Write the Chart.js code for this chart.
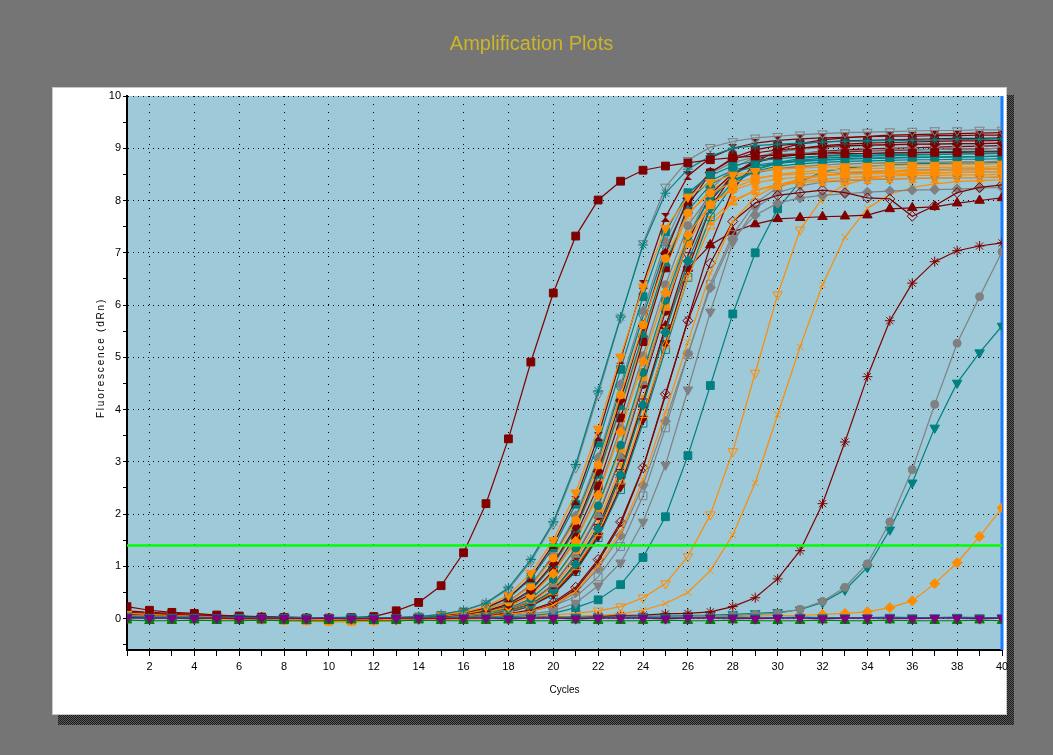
<!DOCTYPE html>
<html>
<head>
<meta charset="utf-8">
<title>Amplification Plots</title>
<script src="https://cdn.jsdelivr.net/npm/chart.js@4.4.1/dist/chart.umd.min.js"></script>
<style>
    html, body { margin: 0; padding: 0; background: #757575; overflow: hidden; }
    canvas { display: block; }
</style>
</head>
<body>
<canvas id="ampChart" width="1053" height="755"></canvas>
<script>
// x axis: PCR cycles
let cycles = [1,2,3,4,5,6,7,8,9,10,11,12,13,14,15,16,17,18,19,20,21,22,23,24,25,26,27,28,29,30,31,32,33,34,35,36,37,38,39,40];
let yTicks = [-0.5,0,0.5,1,1.5,2,2.5,3,3.5,4,4.5,5,5.5,6,6.5,7,7.5,8,8.5,9,9.5,10];
let threshold = 1.4;

// Fluorescence (dRn) per well, one value per cycle
let tealStar = [0.03,0.02,0.02,0.01,0.01,0.00,0.00,0.00,0.01,0.00,0.00,0.01,0.02,0.04,0.08,0.16,0.30,0.59,1.13,1.85,2.95,4.36,5.77,7.15,8.14,8.60,8.85,9.00,9.05,9.08,9.10,9.12,9.13,9.14,9.15,9.15,9.16,9.17,9.17,9.18];
let greyOpenDown = [0.06,0.05,0.04,0.03,0.02,0.02,0.01,0.01,0.00,0.00,0.01,0.01,0.02,0.04,0.08,0.15,0.29,0.56,1.09,1.81,2.89,4.29,5.75,7.18,8.26,8.77,9.02,9.13,9.20,9.23,9.26,9.28,9.30,9.31,9.32,9.33,9.34,9.34,9.35,9.35];
let orangeDown = [0.10,0.08,0.06,0.05,0.03,0.02,0.01,0.00,-0.01,-0.02,-0.02,-0.01,0.02,0.04,0.07,0.12,0.23,0.45,0.87,1.50,2.41,3.63,5.01,6.35,7.47,8.07,8.35,8.49,8.56,8.60,8.62,8.64,8.65,8.66,8.67,8.68,8.68,8.69,8.69,8.70];
let tealSquare = [0.04,0.03,0.03,0.02,0.02,0.01,0.01,0.00,0.00,0.00,0.00,0.00,0.01,0.03,0.06,0.11,0.20,0.39,0.76,1.36,2.19,3.36,4.77,6.16,7.40,8.15,8.48,8.66,8.76,8.80,8.83,8.85,8.86,8.87,8.88,8.88,8.89,8.89,8.90,8.90];
let redHourglass = [0.12,0.10,0.08,0.06,0.05,0.04,0.03,0.02,0.01,0.01,0.00,0.00,0.01,0.03,0.06,0.11,0.21,0.40,0.79,1.42,2.27,3.49,4.95,6.40,7.68,8.47,8.82,9.00,9.10,9.15,9.18,9.20,9.21,9.22,9.23,9.23,9.24,9.24,9.25,9.25];
let orangeCircle = [0.05,0.04,0.03,0.02,0.01,0.00,-0.01,-0.02,-0.03,-0.04,-0.04,-0.03,0.00,0.02,0.05,0.09,0.17,0.32,0.62,1.16,1.88,2.94,4.28,5.62,6.89,7.76,8.14,8.34,8.43,8.48,8.51,8.53,8.55,8.56,8.57,8.58,8.58,8.59,8.59,8.60];
let greyDiamond = [0.02,0.02,0.01,0.01,0.01,0.00,0.00,0.00,0.00,0.00,0.00,0.00,0.01,0.02,0.05,0.09,0.18,0.33,0.65,1.21,1.97,3.08,4.48,5.88,7.21,8.12,8.52,8.73,8.83,8.88,8.91,8.93,8.95,8.96,8.97,8.98,8.98,8.99,8.99,9.00];
let redDiamond = [0.08,0.07,0.06,0.05,0.04,0.03,0.02,0.02,0.01,0.01,0.00,0.00,0.01,0.02,0.04,0.08,0.15,0.28,0.55,1.06,1.76,2.82,4.18,5.60,6.99,8.04,8.54,8.79,8.91,8.97,9.00,9.03,9.05,9.06,9.07,9.08,9.08,9.09,9.09,9.10];
let tealTriangle = [0.03,0.03,0.02,0.02,0.01,0.01,0.01,0.00,0.00,0.00,0.00,0.00,0.01,0.02,0.04,0.08,0.15,0.27,0.53,1.03,1.71,2.74,4.06,5.44,6.80,7.81,8.30,8.54,8.65,8.71,8.75,8.77,8.79,8.80,8.81,8.82,8.83,8.83,8.84,8.85];
let orangeDiamond = [0.07,0.06,0.05,0.03,0.02,0.01,0.00,-0.01,-0.02,-0.03,-0.03,-0.02,0.00,0.02,0.04,0.07,0.12,0.23,0.44,0.86,1.48,2.36,3.57,4.92,6.24,7.34,7.93,8.20,8.34,8.41,8.45,8.48,8.50,8.51,8.52,8.53,8.53,8.54,8.54,8.55];
let redSquare = [0.05,0.04,0.04,0.03,0.02,0.02,0.01,0.01,0.00,0.00,0.00,0.00,0.01,0.02,0.04,0.07,0.13,0.25,0.47,0.92,1.59,2.54,3.84,5.30,6.71,7.90,8.53,8.82,8.97,9.05,9.09,9.12,9.14,9.15,9.16,9.17,9.18,9.19,9.19,9.20];
let tealCircle = [0.02,0.02,0.02,0.01,0.01,0.01,0.00,0.00,0.00,0.00,0.00,0.00,0.00,0.01,0.03,0.06,0.11,0.20,0.38,0.75,1.35,2.16,3.32,4.71,6.09,7.31,8.06,8.39,8.56,8.66,8.70,8.73,8.75,8.76,8.77,8.78,8.78,8.79,8.79,8.80];
let orangeSquare = [0.04,0.03,0.02,0.01,0.00,-0.01,-0.02,-0.03,-0.04,-0.05,-0.05,-0.04,-0.02,0.01,0.03,0.06,0.10,0.20,0.38,0.74,1.32,2.13,3.26,4.63,5.98,7.18,7.92,8.24,8.41,8.50,8.55,8.58,8.60,8.61,8.62,8.63,8.63,8.64,8.64,8.65];
let greyTriangle = [0.02,0.02,0.01,0.01,0.01,0.01,0.00,0.00,0.00,0.00,0.00,0.00,0.00,0.01,0.02,0.05,0.09,0.18,0.34,0.66,1.22,1.99,3.11,4.53,5.95,7.29,8.21,8.62,8.83,8.93,8.98,9.01,9.03,9.05,9.06,9.07,9.08,9.09,9.09,9.10];
let redCircle = [0.10,0.08,0.07,0.05,0.04,0.03,0.02,0.01,0.01,0.00,0.00,0.00,0.00,0.01,0.02,0.05,0.09,0.18,0.33,0.65,1.21,1.97,3.08,4.48,5.88,7.21,8.12,8.52,8.73,8.83,8.88,8.91,8.93,8.95,8.96,8.97,8.98,8.99,8.99,9.00];
let tealDiamond = [0.03,0.02,0.02,0.02,0.01,0.01,0.01,0.00,0.00,0.00,0.00,0.00,0.00,0.01,0.02,0.04,0.08,0.15,0.27,0.54,1.04,1.72,2.75,4.09,5.48,6.84,7.86,8.35,8.59,8.71,8.77,8.81,8.83,8.85,8.86,8.87,8.88,8.89,8.89,8.90];
let orangeOpenUp = [0.06,0.05,0.04,0.02,0.01,0.00,-0.01,-0.02,-0.03,-0.03,-0.04,-0.03,-0.01,0.01,0.02,0.04,0.07,0.14,0.26,0.51,0.99,1.64,2.63,3.90,5.23,6.53,7.51,7.97,8.20,8.31,8.37,8.41,8.44,8.46,8.47,8.48,8.48,8.49,8.49,8.50];
let redDown = [0.04,0.04,0.03,0.03,0.02,0.02,0.01,0.01,0.00,0.00,0.00,0.00,0.00,0.01,0.02,0.04,0.07,0.13,0.25,0.47,0.92,1.58,2.53,3.82,5.27,6.68,7.86,8.49,8.78,8.92,9.00,9.05,9.08,9.10,9.11,9.12,9.13,9.14,9.14,9.15];
let tealOpenSquare = [0.02,0.02,0.01,0.01,0.01,0.00,0.00,0.00,0.00,0.00,0.00,0.00,0.00,0.01,0.02,0.04,0.07,0.13,0.24,0.46,0.90,1.55,2.47,3.74,5.15,6.53,7.69,8.30,8.59,8.73,8.80,8.85,8.88,8.90,8.91,8.92,8.93,8.94,8.94,8.95];
let orangeCross = [0.03,0.02,0.01,0.00,-0.01,-0.02,-0.03,-0.04,-0.05,-0.06,-0.06,-0.05,-0.04,-0.02,0.01,0.02,0.04,0.08,0.14,0.26,0.52,1.01,1.66,2.66,3.95,5.29,6.61,7.60,8.07,8.30,8.41,8.47,8.51,8.53,8.55,8.56,8.57,8.58,8.59,8.60];
let redCross = [0.15,0.12,0.10,0.08,0.06,0.05,0.04,0.03,0.02,0.01,0.01,0.00,0.00,0.00,0.01,0.02,0.04,0.08,0.15,0.28,0.56,1.09,1.80,2.88,4.27,5.72,7.14,8.21,8.72,8.97,9.09,9.16,9.20,9.23,9.25,9.26,9.27,9.28,9.29,9.30];
let greyCircle = [0.03,0.02,0.02,0.01,0.01,0.01,0.00,0.00,0.00,0.00,0.00,0.00,0.01,0.02,0.04,0.07,0.12,0.24,0.45,0.88,1.51,2.41,3.65,5.03,6.39,7.52,8.11,8.39,8.53,8.61,8.65,8.68,8.70,8.71,8.72,8.73,8.73,8.74,8.74,8.75];
let redOpenDown = [0.05,0.04,0.03,0.03,0.02,0.02,0.01,0.01,0.01,0.00,0.00,0.00,0.00,0.01,0.02,0.04,0.08,0.15,0.28,0.54,1.06,1.75,2.80,4.15,5.57,6.95,7.99,8.49,8.73,8.85,8.90,8.94,8.97,8.99,9.00,9.01,9.02,9.03,9.04,9.05];
let orangeOpenSquare = [0.08,0.06,0.05,0.04,0.02,0.01,0.00,-0.01,-0.02,-0.02,-0.03,-0.02,0.01,0.02,0.04,0.08,0.14,0.27,0.53,1.02,1.69,2.71,4.02,5.38,6.72,7.72,8.20,8.44,8.56,8.62,8.66,8.68,8.70,8.71,8.72,8.73,8.73,8.74,8.74,8.75];
let tealOpenDown = [0.02,0.02,0.02,0.01,0.01,0.01,0.01,0.00,0.00,0.00,0.00,0.00,0.01,0.02,0.05,0.09,0.17,0.33,0.64,1.19,1.93,3.03,4.40,5.78,7.09,7.98,8.38,8.58,8.68,8.73,8.76,8.78,8.80,8.81,8.82,8.83,8.83,8.84,8.84,8.85];
let orangeHourglass = [0.05,0.04,0.03,0.02,0.01,0.00,-0.01,-0.02,-0.02,-0.03,-0.03,-0.02,-0.01,0.01,0.02,0.05,0.09,0.17,0.31,0.61,1.14,1.85,2.89,4.20,5.52,6.77,7.62,8.00,8.19,8.29,8.34,8.37,8.39,8.41,8.42,8.43,8.43,8.44,8.44,8.45];
let redOpenDiamond = [0.06,0.05,0.04,0.03,0.03,0.02,0.02,0.01,0.01,0.00,0.00,0.00,0.00,0.00,0.01,0.02,0.05,0.09,0.17,0.31,0.60,1.13,1.85,2.89,4.30,5.70,6.80,7.60,7.95,8.10,8.15,8.20,8.15,8.05,8.03,7.70,7.90,8.15,8.25,8.30];
let greyDiamondLow = [0.02,0.02,0.01,0.01,0.01,0.00,0.00,0.00,0.00,0.00,0.00,0.00,0.00,0.00,0.01,0.02,0.04,0.07,0.14,0.25,0.50,0.96,1.59,2.55,3.78,5.07,6.33,7.27,7.72,7.95,8.05,8.10,8.13,8.16,8.18,8.20,8.21,8.22,8.24,8.25];
let greyOpenSquare = [0.03,0.02,0.02,0.01,0.01,0.01,0.00,0.00,0.00,0.00,0.00,0.00,0.00,0.01,0.02,0.03,0.05,0.09,0.15,0.25,0.42,0.80,1.38,2.35,3.65,5.05,6.40,7.35,7.95,8.25,8.40,8.48,8.52,8.55,8.57,8.58,8.59,8.60,8.60,8.60];
let greyDown = [0.02,0.02,0.02,0.01,0.01,0.01,0.00,0.00,0.00,0.00,0.00,0.00,0.00,0.00,0.01,0.02,0.04,0.06,0.09,0.15,0.30,0.63,1.07,1.85,2.94,4.38,5.87,7.20,7.85,8.15,8.28,8.35,8.38,8.40,8.41,8.42,8.43,8.44,8.44,8.45];
let redTriangle = [0.04,0.03,0.03,0.02,0.02,0.01,0.01,0.01,0.00,0.00,0.00,0.00,0.00,0.01,0.02,0.03,0.06,0.12,0.25,0.50,0.95,1.65,2.75,4.10,5.60,6.70,7.15,7.40,7.55,7.65,7.67,7.69,7.70,7.72,7.84,7.86,7.88,7.95,8.00,8.05];
let redSquareEarly = [0.23,0.16,0.12,0.10,0.07,0.05,0.03,0.02,0.01,0.01,0.02,0.04,0.15,0.31,0.63,1.26,2.20,3.44,4.91,6.23,7.32,8.01,8.37,8.58,8.66,8.72,8.78,8.82,8.85,8.87,8.88,8.89,8.90,8.90,8.91,8.91,8.92,8.92,8.93,8.93];
let tealSquareLate = [0.03,0.03,0.02,0.02,0.02,0.01,0.01,0.01,0.00,0.00,0.00,0.00,0.00,0.01,0.01,0.01,0.02,0.04,0.06,0.10,0.21,0.36,0.65,1.17,1.95,3.12,4.46,5.83,7.00,7.84,8.36,8.55,8.62,8.66,8.68,8.70,8.71,8.72,8.72,8.73];
let orangeOpenDownLate = [0.06,0.05,0.04,0.03,0.02,0.01,0.00,-0.01,-0.02,-0.03,-0.03,-0.03,-0.02,-0.01,0.00,0.01,0.02,0.03,0.05,0.07,0.10,0.15,0.23,0.40,0.67,1.19,1.99,3.20,4.70,6.20,7.44,8.05,8.30,8.42,8.48,8.51,8.53,8.54,8.55,8.55];
let orangeCrossLate = [0.04,0.03,0.02,0.01,0.00,-0.01,-0.02,-0.03,-0.04,-0.04,-0.05,-0.05,-0.04,-0.03,-0.02,-0.01,0.00,0.01,0.02,0.03,0.04,0.06,0.09,0.16,0.29,0.50,0.92,1.60,2.60,3.90,5.20,6.39,7.30,7.85,8.12,8.25,8.32,8.36,8.38,8.40];
let redStarLate = [0.05,0.04,0.04,0.03,0.03,0.02,0.02,0.02,0.01,0.01,0.01,0.01,0.01,0.01,0.02,0.02,0.02,0.03,0.03,0.03,0.04,0.05,0.06,0.07,0.09,0.10,0.13,0.23,0.40,0.76,1.30,2.20,3.38,4.63,5.70,6.42,6.83,7.04,7.13,7.19];
let greyCircleLate = [0.02,0.02,0.02,0.01,0.01,0.01,0.01,0.01,0.00,0.00,0.00,0.00,0.00,0.00,0.01,0.01,0.01,0.02,0.02,0.02,0.03,0.03,0.03,0.04,0.04,0.05,0.05,0.06,0.08,0.10,0.18,0.33,0.60,1.05,1.85,2.85,4.10,5.27,6.16,7.02];
let tealDownLate = [0.03,0.03,0.02,0.02,0.02,0.02,0.01,0.01,0.01,0.01,0.01,0.01,0.01,0.01,0.01,0.02,0.02,0.02,0.03,0.03,0.03,0.04,0.04,0.05,0.05,0.06,0.07,0.08,0.10,0.12,0.17,0.31,0.55,0.98,1.70,2.60,3.65,4.51,5.09,5.60];
let orangeDiamondLate = [0.05,0.04,0.03,0.03,0.02,0.01,0.01,0.00,0.00,-0.01,-0.01,-0.01,-0.01,0.00,0.00,0.01,0.01,0.02,0.02,0.02,0.03,0.03,0.03,0.04,0.04,0.04,0.05,0.05,0.05,0.06,0.06,0.08,0.10,0.13,0.21,0.34,0.67,1.07,1.57,2.12];
// no template controls
let purpleNtc = [0.02,0.01,0.01,0.01,0.01,0.00,0.01,0.01,0.00,0.01,0.00,0.00,0.01,0.01,0.00,0.01,0.01,0.00,0.01,0.01,0.00,0.01,0.01,0.01,0.00,0.01,0.01,0.01,0.00,0.01,0.01,0.00,0.01,0.01,0.01,0.00,0.01,0.01,0.00,0.01];
let tealNtc = [0.04,0.03,0.03,0.03,0.02,0.03,0.02,0.03,0.02,0.02,0.03,0.02,0.02,0.03,0.02,0.02,0.03,0.02,0.02,0.02,0.03,0.02,0.02,0.03,0.02,0.02,0.02,0.03,0.02,0.02,0.03,0.02,0.02,0.02,0.03,0.02,0.02,0.03,0.02,0.02];
let greenNtc = [-0.03,-0.04,-0.04,-0.03,-0.04,-0.04,-0.03,-0.04,-0.04,-0.04,-0.03,-0.04,-0.04,-0.03,-0.04,-0.04,-0.04,-0.03,-0.04,-0.04,-0.03,-0.04,-0.04,-0.04,-0.03,-0.04,-0.04,-0.03,-0.04,-0.04,-0.04,-0.03,-0.04,-0.04,-0.03,-0.04,-0.04,-0.04,-0.03,-0.04];

let palette = {
    red: "#800000",
    orange: "#ff8c00",
    teal: "#008080",
    grey: "#808080",
    purple: "#800080",
    green: "#008000"
};

let markers = {
    square: { style: "rect", r: 5.5 },
    circle: { style: "circle", r: 4 },
    diamond: { style: "rectRot", r: 5 },
    up: { style: "triangle", r: 5.5, rot: 0 },
    down: { style: "triangle", r: 5.5, rot: 180 },
    cross: { style: "crossRot", r: 4.5 },
    star: { style: "star", r: 5 },
    hourglass: { style: "hourglass", r: 5 }
};

// first in the list is drawn on top
let wells = [
    { data: purpleNtc, color: "purple", marker: "down" },
    { data: tealNtc, color: "teal", marker: "down" },
    { data: greenNtc, color: "green", marker: "up" },
    { data: redSquareEarly, color: "red", marker: "square" },
    { data: tealStar, color: "teal", marker: "star" },
    { data: greyOpenDown, color: "grey", marker: "down", open: true },
    { data: orangeDown, color: "orange", marker: "down" },
    { data: redHourglass, color: "red", marker: "hourglass" },
    { data: tealSquare, color: "teal", marker: "square" },
    { data: orangeCircle, color: "orange", marker: "circle" },
    { data: redDiamond, color: "red", marker: "diamond" },
    { data: greyDiamond, color: "grey", marker: "diamond" },
    { data: tealTriangle, color: "teal", marker: "up" },
    { data: orangeDiamond, color: "orange", marker: "diamond" },
    { data: redSquare, color: "red", marker: "square" },
    { data: tealCircle, color: "teal", marker: "circle" },
    { data: orangeSquare, color: "orange", marker: "square" },
    { data: greyTriangle, color: "grey", marker: "up" },
    { data: redCircle, color: "red", marker: "circle" },
    { data: tealDiamond, color: "teal", marker: "diamond" },
    { data: orangeOpenUp, color: "orange", marker: "up", open: true },
    { data: redDown, color: "red", marker: "down" },
    { data: tealOpenSquare, color: "teal", marker: "square", open: true },
    { data: orangeCross, color: "orange", marker: "cross" },
    { data: redCross, color: "red", marker: "cross" },
    { data: greyCircle, color: "grey", marker: "circle" },
    { data: redOpenDown, color: "red", marker: "down", open: true },
    { data: orangeOpenSquare, color: "orange", marker: "square", open: true },
    { data: tealOpenDown, color: "teal", marker: "down", open: true },
    { data: orangeHourglass, color: "orange", marker: "hourglass" },
    { data: redOpenDiamond, color: "red", marker: "diamond", open: true },
    { data: greyDiamondLow, color: "grey", marker: "diamond" },
    { data: greyOpenSquare, color: "grey", marker: "square", open: true },
    { data: greyDown, color: "grey", marker: "down" },
    { data: redTriangle, color: "red", marker: "up" },
    { data: tealSquareLate, color: "teal", marker: "square" },
    { data: orangeOpenDownLate, color: "orange", marker: "down", open: true },
    { data: orangeCrossLate, color: "orange", marker: "cross" },
    { data: redStarLate, color: "red", marker: "star" },
    { data: greyCircleLate, color: "grey", marker: "circle" },
    { data: tealDownLate, color: "teal", marker: "down" },
    { data: orangeDiamondLate, color: "orange", marker: "diamond" }
];

let plotBg = "#9dc9d8";
let tickFont = { family: "'Liberation Sans Narrow', 'Liberation Sans', Arial, sans-serif", size: 11 };

// little bow-tie marker, not built into Chart.js
function hourglassIcon(color) {
    let c = document.createElement("canvas");
    c.width = 9;
    c.height = 9;
    let g = c.getContext("2d");
    g.fillStyle = color;
    g.beginPath();
    g.moveTo(0, 0);
    g.lineTo(9, 0);
    g.lineTo(4.5, 4.5);
    g.lineTo(9, 9);
    g.lineTo(0, 9);
    g.lineTo(4.5, 4.5);
    g.closePath();
    g.fill();
    return c;
}

let datasets = [{
    label: "Threshold",
    data: [{ x: cycles[0], y: threshold }, { x: cycles[cycles.length - 1], y: threshold }],
    borderColor: "#00ff00",
    borderWidth: 2.5,
    pointRadius: 0
}];

wells.forEach(function (w, i) {
    let m = markers[w.marker];
    let color = palette[w.color];
    datasets.push({
        label: "Well " + (i + 1),
        data: w.data,
        borderColor: color,
        borderWidth: 1.2,
        pointStyle: m.style === "hourglass" ? hourglassIcon(color) : m.style,
        pointRadius: m.r,
        pointRotation: m.rot || 0,
        pointBorderColor: color,
        pointBorderWidth: 1,
        pointBackgroundColor: w.open ? "rgba(0,0,0,0)" : color,
        tension: 0
    });
});

// grey page, shadowed white card and the blue plot area
let framePlugin = {
    id: "frame",
    beforeDraw: function (chart) {
        let c = chart.ctx;
        let a = chart.chartArea;
        c.save();
        c.fillStyle = "#757575";
        c.fillRect(0, 0, chart.width, chart.height);

        let tile = document.createElement("canvas");
        tile.width = 2;
        tile.height = 2;
        let t = tile.getContext("2d");
        t.fillStyle = "#5a5a5a";
        t.fillRect(0, 0, 2, 2);
        t.fillStyle = "#1c1c1c";
        t.fillRect(0, 0, 1, 1);
        t.fillRect(1, 1, 1, 1);
        c.fillStyle = c.createPattern(tile, "repeat");
        c.fillRect(58, 95, 956, 630);

        c.fillStyle = "#ffffff";
        c.fillRect(52, 87, 955, 628);
        c.strokeStyle = "#c8c8c8";
        c.lineWidth = 1;
        c.strokeRect(52.5, 87.5, 954, 627);

        c.fillStyle = plotBg;
        c.fillRect(a.left, a.top, a.right - a.left, a.bottom - a.top);
        c.restore();
    },
    beforeDatasetsDraw: function (chart) {
        let c = chart.ctx;
        let a = chart.chartArea;
        let x = chart.scales.x.getPixelForValue(cycles[cycles.length - 1]);
        c.save();
        c.strokeStyle = "#1a7dff";
        c.lineWidth = 3;
        c.beginPath();
        c.moveTo(x, a.top);
        c.lineTo(x, a.bottom);
        c.stroke();
        c.restore();
    },
    afterDraw: function (chart) {
        let c = chart.ctx;
        c.save();
        c.translate(101, 358);
        c.rotate(-Math.PI / 2);
        c.font = "10px 'Liberation Sans', Arial, sans-serif";
        if ("letterSpacing" in c) c.letterSpacing = "1.8px";
        c.fillStyle = "#000000";
        c.textAlign = "center";
        c.textBaseline = "middle";
        c.fillText("Fluorescence (dRn)", 0, 0);
        c.restore();
    }
};

let ctx = document.getElementById("ampChart").getContext("2d");

let chart = new Chart(ctx, {
    type: "line",
    data: {
        labels: cycles,
        datasets: datasets
    },
    options: {
        responsive: false,
        devicePixelRatio: 1,
        animation: false,
        events: [],
        layout: {
            padding: { left: 61, right: 51, top: 32, bottom: 40 }
        },
        plugins: {
            legend: { display: false },
            tooltip: { enabled: false },
            title: {
                display: true,
                text: "Amplification Plots",
                color: "#cdb52a",
                font: { family: "'Liberation Sans', Arial, sans-serif", size: 20, weight: "normal", lineHeight: 1.2 },
                padding: { top: 0, bottom: 40 }
            }
        },
        scales: {
            x: {
                type: "linear",
                bounds: "data",
                min: 1,
                max: 40,
                afterBuildTicks: function (axis) {
                    axis.ticks = cycles.map(function (v) { return { value: v }; });
                },
                afterFit: function (scale) {
                    scale.height = 65;
                },
                ticks: {
                    autoSkip: false,
                    maxRotation: 0,
                    padding: 4,
                    color: "#000000",
                    font: tickFont,
                    callback: function (v) { return v % 2 === 0 ? String(v) : ""; }
                },
                grid: {
                    color: function (c) {
                        return c.tick && c.tick.value % 2 === 0 && c.tick.value < 40 ? "#000000" : "rgba(0,0,0,0)";
                    },
                    lineWidth: 1,
                    tickColor: "#000000",
                    tickLength: 6
                },
                border: { display: true, color: "#000000", width: 2, dash: [1, 7] },
                title: {
                    display: true,
                    text: "Cycles",
                    color: "#000000",
                    font: { family: "'Liberation Sans', Arial, sans-serif", size: 10 },
                    padding: { top: 0, bottom: 19 }
                }
            },
            y: {
                type: "linear",
                bounds: "data",
                min: -0.6,
                max: 10,
                afterBuildTicks: function (axis) {
                    axis.ticks = yTicks.map(function (v) { return { value: v }; });
                },
                afterFit: function (scale) {
                    scale.width = 66;
                },
                ticks: {
                    autoSkip: false,
                    padding: 2,
                    color: "#000000",
                    font: tickFont,
                    callback: function (v) { return Number.isInteger(v) ? String(v) : ""; }
                },
                grid: {
                    color: function (c) {
                        return c.tick && Number.isInteger(c.tick.value) ? "#000000" : "rgba(0,0,0,0)";
                    },
                    lineWidth: 1,
                    tickColor: "#000000",
                    tickLength: 4
                },
                border: { display: true, color: "#000000", width: 2, dash: [1, 4] }
            }
        }
    },
    plugins: [framePlugin]
});
</script>
</body>
</html>
